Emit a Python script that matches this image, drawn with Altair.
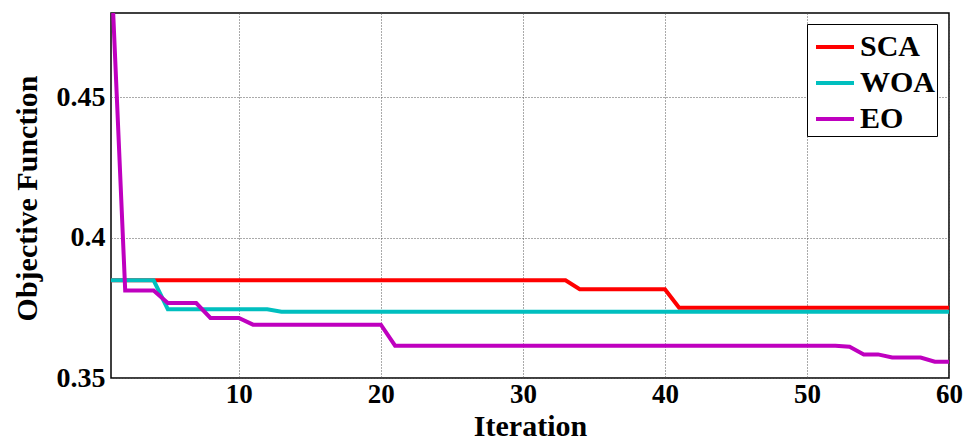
import altair as alt
import pandas as pd

# Convergence curves: best objective value per iteration
iterations = list(range(1, 61))

sca = [0.3848] * 33 + [0.3816] * 7 + [0.3750] * 20
woa = [0.3848] * 4 + [0.3745] * 8 + [0.3736] * 48
eo = ([0.498] + [0.3812] * 3 + [0.3767] * 3 + [0.3714] * 3 + [0.3690] * 10
      + [0.3615] * 32 + [0.3611] + [0.3584] * 2 + [0.3573] * 3 + [0.3558] * 2)

series_names = ["SCA", "WOA", "EO"]
series_colors = ["#FF0000", "#00BFBF", "#BF00BF"]

frames = []
for name, values in zip(series_names, [sca, woa, eo]):
    frames.append(pd.DataFrame({"Iteration": iterations, "Value": values, "Algorithm": name}))
df = pd.concat(frames, ignore_index=True)

FONT = "'Times New Roman', 'Liberation Serif', Tinos, serif"

chart = (
    alt.Chart(df)
    .mark_line(strokeWidth=4, clip=True)
    .encode(
        x=alt.X(
            "Iteration:Q",
            scale=alt.Scale(domain=[1, 60], nice=False, zero=False),
            axis=alt.Axis(
                values=[10, 20, 30, 40, 50, 60],
                title="Iteration",
                titleY=57,
                titleBaseline="alphabetic",
                labelPadding=3,
                labelFontSize=27,
                labelFlush=False,
                labelOverlap=False,
            ),
        ),
        y=alt.Y(
            "Value:Q",
            scale=alt.Scale(domain=[0.35, 0.48], nice=False, zero=False),
            axis=alt.Axis(
                values=[0.35, 0.4, 0.45],
                format=".2~f",
                title="Objective Function",
                titleAngle=270,
                titleX=-75,
                titleY=185,
                titleAlign="center",
                titleBaseline="alphabetic",
                labelPadding=6,
                labelFlush=False,
            ),
        ),
        color=alt.Color(
            "Algorithm:N",
            sort=series_names,
            scale=alt.Scale(domain=series_names, range=series_colors),
            legend=alt.Legend(
                title=None,
                orient="none",
                legendX=696,
                legendY=11,
                symbolType="stroke",
                symbolSize=1444,
                symbolStrokeWidth=4,
                symbolOffset=5,
                labelFont=FONT,
                labelFontSize=30,
                labelFontWeight="bold",
                labelColor="black",
                labelOffset=4,
                labelLimit=0,
                strokeColor="black",
                fillColor="white",
                padding=2,
                rowPadding=0,
            ),
        ),
    )
    .properties(
        width=838,
        height=365,
        autosize=alt.AutoSizeParams(type="none"),
        padding={"left": 111, "top": 13, "right": 22, "bottom": 67},
        background="white",
    )
    .configure_view(stroke="black", strokeWidth=1.5)
    .configure_axis(
        ticks=False,
        tickSize=0,
        domain=False,
        grid=True,
        gridColor="#555555",
        gridDash=[1, 2],
        gridWidth=1,
        labelFont=FONT,
        labelFontSize=28,
        labelFontWeight="bold",
        labelColor="black",
        titleFont=FONT,
        titleFontSize=30,
        titleFontWeight="bold",
        titleColor="black",
    )
)

chart.save("out.html", embed_options={"renderer": "svg", "actions": False})
